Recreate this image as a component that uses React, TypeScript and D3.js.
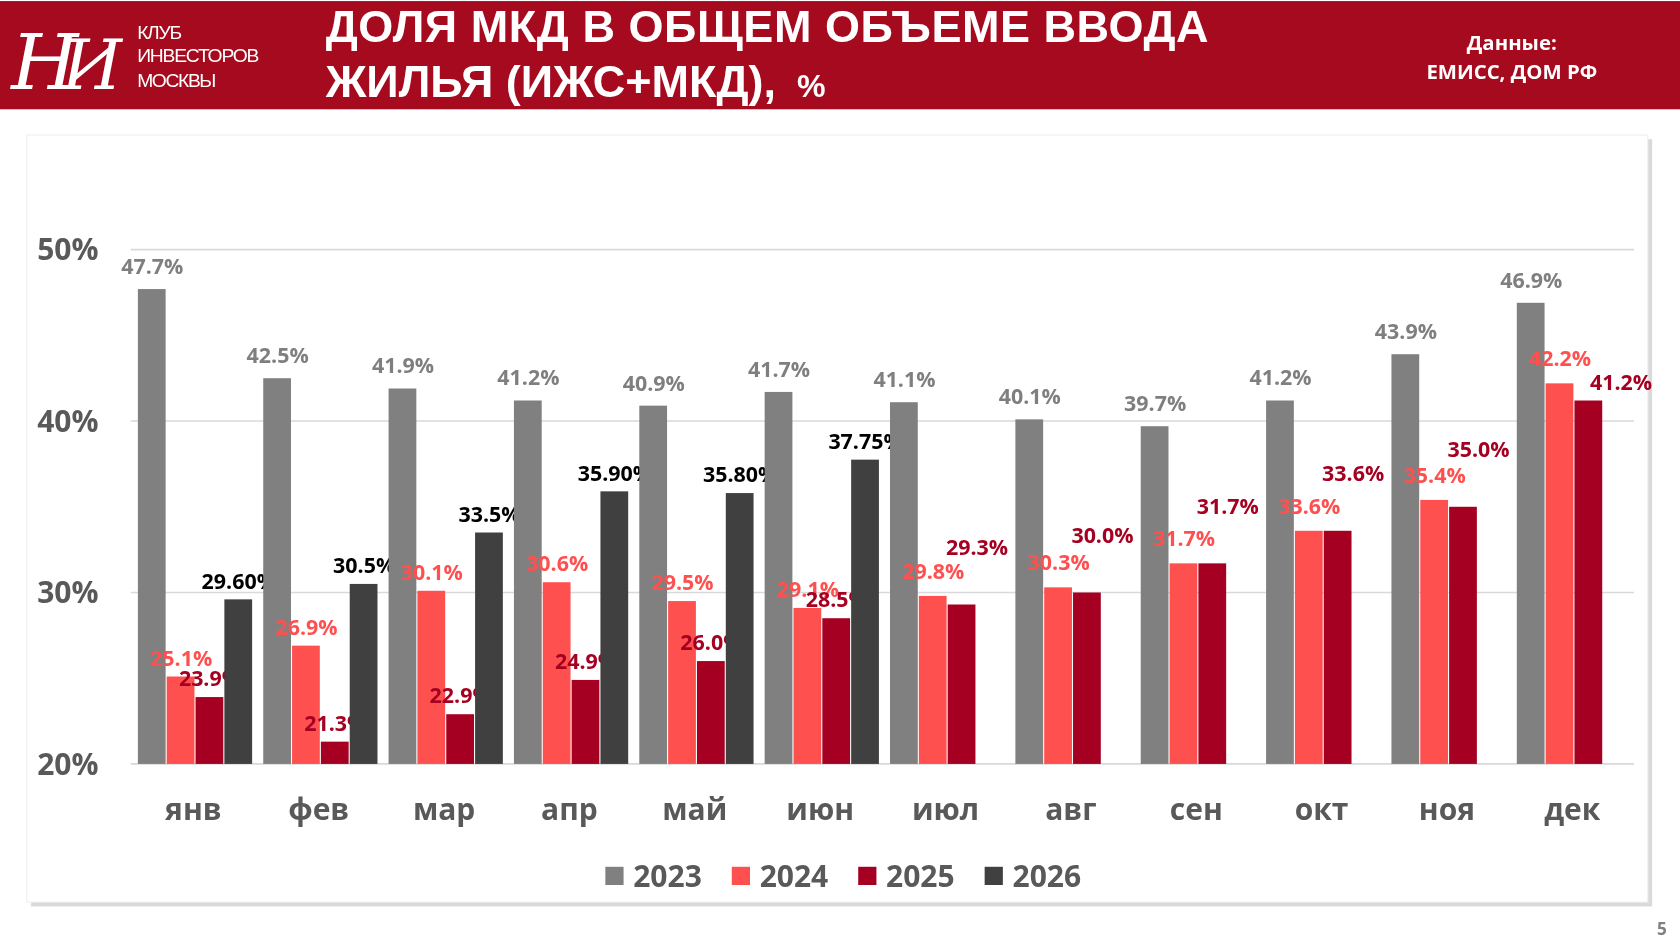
import * as d3 from "d3";

const months = ["янв", "фев", "мар", "апр", "май", "июн", "июл", "авг", "сен", "окт", "ноя", "дек"];
const years = ["2023", "2024", "2025", "2026"];
const v2023 = [47.7, 42.5, 41.9, 41.2, 40.9, 41.7, 41.1, 40.1, 39.7, 41.2, 43.9, 46.9];
const v2024 = [25.1, 26.9, 30.1, 30.6, 29.5, 29.1, 29.8, 30.3, 31.7, 33.6, 35.4, 42.2];
const v2025 = [23.9, 21.3, 22.9, 24.9, 26.0, 28.5, 29.3, 30.0, 31.7, 33.6, 35.0, 41.2];
const v2026: (number | null)[] = [29.6, 30.5, 33.5, 35.9, 35.8, 37.75, null, null, null, null, null, null];
const labels2026 = ["29.60%", "30.5%", "33.5%", "35.90%", "35.80%", "37.75%"];
const yTicks = [20, 30, 40, 50];
const colors = ["#808080", "#FF5050", "#A50021", "#404040"];
const labelColors = ["#7f7f7f", "#FF5050", "#A50021", "#000000"];

const W = 1568, H = 880;
const font = "'Open Sans', 'DejaVu Sans', sans-serif";

export default function App() {
  const x0 = d3.scaleBand().domain(months).range([124, 1528]).paddingInner(0.08).paddingOuter(0.04);
  const x1 = d3.scaleBand().domain(years).range([0, x0.bandwidth()]);
  const y = d3.scaleLinear().domain([20, 50]).range([712, 232]);
  const series = [v2023, v2024, v2025, v2026];

  return (
    <div style={{ position: "fixed", left: 0, top: 0 }}>
      <svg width={1680} height={945} viewBox={`0 0 ${W} ${H}`} fontFamily={font}>
        <rect width={W} height={H} fill="#fff" />
        <rect width={W} height={101} fill="#A50A1E" />
        <g fill="#fff" fontFamily="'Liberation Sans', Arial, sans-serif">
          <text x={42} y={82} fontSize={72} fontFamily="'DejaVu Serif', serif" fontStyle="italic" textAnchor="middle">Н</text>
          <text x={86} y={82} fontSize={64} fontFamily="'DejaVu Serif', serif" fontStyle="italic" textAnchor="middle">И</text>
          <text x={128} y={35} fontSize={18} textLength={42}>КЛУБ</text>
          <text x={128} y={57} fontSize={18} textLength={114}>ИНВЕСТОРОВ</text>
          <text x={128} y={80} fontSize={18} textLength={74}>МОСКВЫ</text>
          <text x={304} y={38} fontSize={42} fontWeight="bold" textLength={824}>ДОЛЯ МКД В ОБЩЕМ ОБЪЕМЕ ВВОДА</text>
          <text x={304} y={90} fontSize={42} fontWeight="bold">ЖИЛЬЯ (ИЖС+МКД), <tspan fontSize={30} dx={8}>%</tspan></text>
        </g>
        <g fill="#fff" fontSize={19} fontWeight="bold" textAnchor="middle" fontFamily={font}>
          <text x={1411} y={46}>Данные:</text>
          <text x={1411} y={73}>ЕМИСС, ДОМ РФ</text>
        </g>
        <rect x={29} y={129} width={1513} height={716} fill="#d9d9d9" />
        <rect x={25} y={125} width={1513} height={716} fill="#fff" stroke="#eee" />
        {yTicks.map((t) => (
          <g key={t}>
            <line x1={122} x2={1525} y1={y(t)} y2={y(t)} stroke="#d9d9d9" strokeWidth={1.5} />
            <text x={92} y={y(t) + 10} fontSize={28} fontWeight="bold" fill="#595959" textAnchor="end">{t}%</text>
          </g>
        ))}
        {months.map((m, i) => (
          <g key={m} transform={`translate(${x0(m)},0)`}>
            {series.map((s, k) => {
              const v = s[i];
              if (v == null) return null;
              const bx = x1(years[k])!;
              const bw = x1.bandwidth();
              const no26 = v2026[i] == null;
              let dx = 0, dy = -10;
              if (k === 0) dy = -14;
              if (k === 2 && no26) { dx = 14; dy = -46; }
              if (k === 1 && no26) { dy = -16; }
              if (k === 2 && i === 11) { dx = 30; dy = -10; }
              const txt = k === 3 ? labels2026[i] : `${v.toFixed(1)}%`;
              return (
                <g key={k}>
                  <rect x={bx} y={y(v)} width={bw - 1} height={712 - y(v)} fill={colors[k]} />
                  <text x={bx + bw / 2 + dx} y={y(v) + dy} fontSize={20} fontWeight="bold" fill={labelColors[k]} textAnchor="middle">{txt}</text>
                </g>
              );
            })}
            <text x={x0.bandwidth() / 2 - 2} y={764} fontSize={28} fontWeight="bold" fill="#595959" textAnchor="middle">{m}</text>
          </g>
        ))}
        {years.map((yr, k) => {
          const lx = 565 + k * 118;
          return (
            <g key={yr}>
              <rect x={lx} y={808} width={17} height={17} fill={colors[k]} />
              <text x={lx + 26} y={827} fontSize={28} fontWeight="bold" fill="#595959">{yr}</text>
            </g>
          );
        })}
        <text x={1551} y={872} fontSize={16} fontWeight="bold" fill="#808080" textAnchor="middle">5</text>
      </svg>
    </div>
  );
}
